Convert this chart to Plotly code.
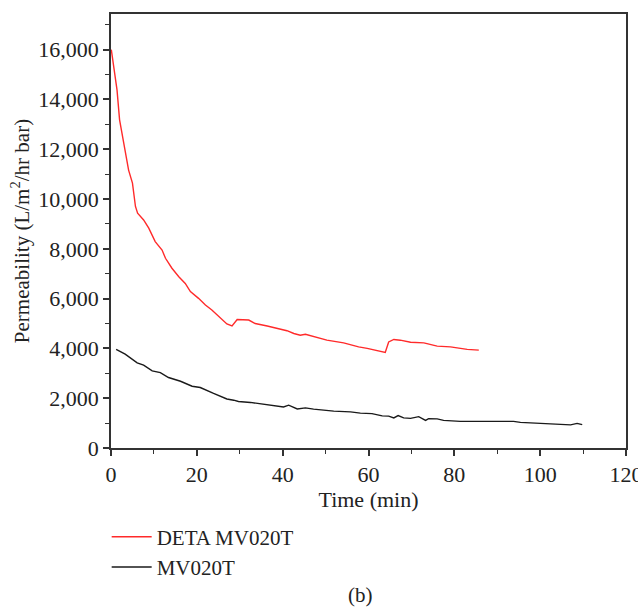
import plotly.graph_objects as go

deta_time = [0.07, 1.4, 2.0, 2.9, 4.1, 5.0, 5.7, 6.2, 7.6, 8.8, 10.3, 11.9, 12.7, 14.2, 15.8, 17.3,
             18.5, 20.4, 22.0, 23.5, 25.5, 27.0, 28.2, 29.4, 32.1, 33.6, 36.4, 39.5, 41.0, 42.6,
             44.1, 45.3, 47.2, 50.3, 54.2, 57.7, 59.7, 62.0, 63.9, 64.7, 65.9, 67.4, 69.8, 72.9,
             76.0, 79.1, 83.0, 85.7]
deta_perm = [16000, 14380, 13180, 12370, 11160, 10640, 9700, 9430, 9160, 8830, 8290, 7950, 7620,
             7220, 6880, 6610, 6280, 6010, 5740, 5540, 5200, 4980, 4900, 5160, 5140, 5000, 4900,
             4760, 4710, 4600, 4530, 4570, 4470, 4330, 4220, 4060, 4000, 3900, 3840, 4260, 4360,
             4330, 4250, 4220, 4090, 4060, 3960, 3930]

mv_time = [1.2, 3.3, 6.1, 7.6, 9.6, 11.5, 13.4, 16.2, 18.9, 20.8, 23.9, 27.0, 28.6, 29.7, 32.5,
           35.6, 38.7, 40.2, 41.4, 43.4, 45.3, 47.2, 51.9, 55.8, 58.1, 60.8, 63.2, 64.7, 65.9,
           66.9, 68.2, 69.8, 71.7, 73.3, 74.0, 76.0, 77.5, 81.4, 86.8, 93.8, 95.4, 98.5, 103.2,
           107.1, 108.6, 109.8]
mv_perm = [3960, 3770, 3420, 3330, 3100, 3030, 2830, 2680, 2480, 2430, 2190, 1970, 1920, 1870,
           1830, 1750, 1680, 1650, 1720, 1570, 1610, 1560, 1480, 1450, 1400, 1380, 1290, 1280,
           1210, 1300, 1210, 1190, 1260, 1110, 1180, 1170, 1110, 1070, 1070, 1070, 1030, 1010,
           970, 930, 990, 940]

x_ticks = [0, 20, 40, 60, 80, 100, 120]
y_ticks = [0, 2000, 4000, 6000, 8000, 10000, 12000, 14000, 16000]

FONT = "Liberation Serif"

fig = go.Figure()
fig.add_trace(go.Scatter(x=deta_time, y=deta_perm, mode="lines", name="DETA MV020T",
                         line=dict(color="#ff2a2a", width=1.4)))
fig.add_trace(go.Scatter(x=mv_time, y=mv_perm, mode="lines", name="MV020T",
                         line=dict(color="#1a1a1a", width=1.4)))

axis_common = dict(showline=True, linecolor="#333333", linewidth=1.5, mirror=True,
                   ticks="outside", ticklen=6, tickwidth=1.5, tickcolor="#333333",
                   showgrid=False, zeroline=False, automargin=False,
                   ticklabeloverflow="allow",
                   tickfont=dict(family=FONT, size=22, color="#222222"))

fig.update_xaxes(range=[0, 120], tickvals=x_ticks,
                 minor=dict(ticks="outside", ticklen=4, dtick=10, tickcolor="#333333", tickwidth=1.2),
                 title=dict(text="Time (min)", font=dict(family=FONT, size=22, color="#222222"),
                            standoff=5),
                 **axis_common)
fig.update_yaxes(range=[0, 17430], tickvals=y_ticks, tickformat=",d",
                 minor=dict(ticks="outside", ticklen=4, dtick=1000, tickcolor="#333333", tickwidth=1.2),
                 title=dict(text="Permeability (L/m<sup>2</sup>/hr bar)",
                            font=dict(family=FONT, size=21, color="#222222"), standoff=3),
                 **axis_common)

fig.add_annotation(text="(b)", xref="paper", yref="paper", x=0.485, y=-0.338,
                   xanchor="center", yanchor="middle", showarrow=False,
                   font=dict(family=FONT, size=21, color="#222222"))

fig.update_layout(
    width=638, height=607,
    margin=dict(l=111, r=12, t=14, b=159),
    paper_bgcolor="white", plot_bgcolor="white",
    showlegend=True,
    legend=dict(x=-0.0084, y=-0.158, xanchor="left", yanchor="top",
                font=dict(family=FONT, size=21, color="#222222"),
                bgcolor="rgba(0,0,0,0)", tracegroupgap=0, itemwidth=40),
)

fig.write_html("out.html", config={"displayModeBar": False},
               post_script="document.body.style.margin='0';document.body.style.overflow='hidden';")
